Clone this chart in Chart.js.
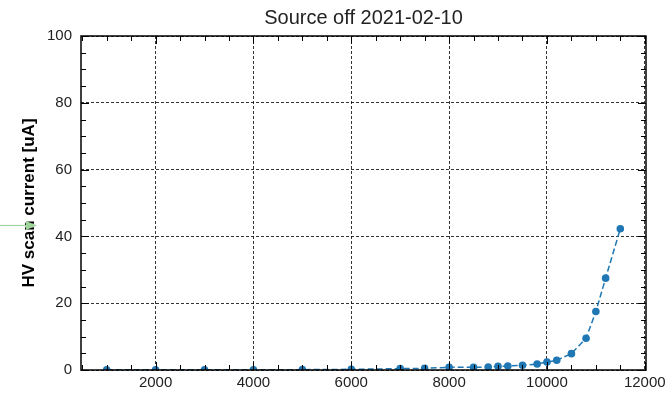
<!DOCTYPE html>
<html>
<head>
<meta charset="utf-8">
<script src="https://cdn.jsdelivr.net/npm/chart.js@4"></script>
<style>
  html, body { margin: 0; padding: 0; background: #fff; }
  #wrap { width: 671px; height: 393px; }
</style>
</head>
<body>
<div id="wrap"><canvas id="myChart" width="671" height="393"></canvas></div>
<script>
const chartTitle = 'Source off 2021-02-10';
const yTitle = 'HV scan current [uA]';
const voltages = [1000, 2000, 3000, 4000, 5000, 6000, 7000, 7500, 8000, 8500, 8800, 9000,
  9200, 9500, 9800, 10000, 10200, 10500, 10800, 11000, 11200, 11500];
const currents = [0.05, 0.05, 0.05, 0.05, 0.1, 0.2, 0.4, 0.5, 0.8, 0.8, 0.9, 1.1,
  1.2, 1.4, 1.8, 2.4, 2.9, 4.9, 9.5, 17.5, 27.5, 42.3];
const xMajorTicks = [2000, 4000, 6000, 8000, 10000, 12000];
const yMajorTicks = [0, 20, 40, 60, 80, 100];

const blue = '#1f77b4';
const font = 'Liberation Sans, Arial, sans-serif';

// inward ticks, top/right spines and the little green arrow on the left
const frame = {
  id: 'frame',
  afterDatasetsDraw(chart) {
    const { ctx, chartArea: a, scales: { x, y } } = chart;
    ctx.save();
    ctx.strokeStyle = '#000';
    ctx.lineWidth = 1;
    ctx.beginPath();
    for (let v = 500; v <= 12000; v += 500) {
      const px = Math.round(x.getPixelForValue(v)) + 0.5;
      if (px < a.left || px > a.right) continue;
      const len = v % 2000 === 0 ? 8 : 5;
      ctx.moveTo(px, a.bottom); ctx.lineTo(px, a.bottom - len);
      ctx.moveTo(px, a.top); ctx.lineTo(px, a.top + len);
    }
    for (let v = 0; v <= 100; v += 5) {
      const py = Math.round(y.getPixelForValue(v)) + 0.5;
      const len = v % 20 === 0 ? 8 : 5;
      ctx.moveTo(a.left, py); ctx.lineTo(a.left + len, py);
      ctx.moveTo(a.right, py); ctx.lineTo(a.right - len, py);
    }
    ctx.stroke();
    ctx.lineWidth = 1.5;
    ctx.strokeRect(a.left, a.top, a.right - a.left, a.bottom - a.top);

    // green arrow
    ctx.strokeStyle = '#9fd49a';
    ctx.fillStyle = '#9fd49a';
    ctx.lineWidth = 1.2;
    ctx.beginPath();
    ctx.moveTo(0, 225.5); ctx.lineTo(30, 225.5);
    ctx.stroke();
    ctx.beginPath();
    ctx.moveTo(37, 225.5); ctx.lineTo(26, 221); ctx.lineTo(26, 230); ctx.closePath();
    ctx.fill();
    ctx.restore();
  }
};

new Chart(document.getElementById('myChart').getContext('2d'), {
  type: 'scatter',
  data: {
    datasets: [{
      data: voltages.map((v, i) => ({ x: v, y: currents[i] })),
      showLine: true,
      borderColor: blue,
      backgroundColor: blue,
      borderWidth: 1.5,
      borderDash: [6, 3],
      pointRadius: 3.8,
      pointHoverRadius: 3.8,
      pointBorderWidth: 0,
    }],
  },
  options: {
    responsive: false,
    animation: false,
    layout: { padding: { left: 0, right: 25, top: 0, bottom: 0 } },
    plugins: {
      legend: { display: false },
      tooltip: { enabled: false },
      title: {
        display: true,
        text: chartTitle,
        fullSize: false,
        color: '#222',
        font: { family: font, size: 20, weight: 'normal' },
        padding: { top: 6, bottom: 6 },
      },
    },
    scales: {
      x: {
        type: 'linear',
        min: 475,
        max: 12025,
        afterBuildTicks: (s) => { s.ticks = xMajorTicks.map((v) => ({ value: v })); },
        afterFit: (s) => { s.height = 23; },
        ticks: {
          color: '#222',
          font: { family: font, size: 15 },
          padding: 4,
          maxRotation: 0,
          callback: (v) => String(v),
        },
        grid: { color: '#000', lineWidth: 0.8, drawTicks: false },
        border: { display: false, dash: [3, 2] },
      },
      y: {
        min: 0,
        max: 100,
        afterBuildTicks: (s) => { s.ticks = yMajorTicks.map((v) => ({ value: v })); },
        afterFit: (s) => { s.width = 81; },
        ticks: {
          color: '#222',
          font: { family: font, size: 15 },
          padding: 9,
        },
        grid: { color: '#000', lineWidth: 0.8, drawTicks: false },
        border: { display: false, dash: [3, 2] },
        title: {
          display: true,
          text: yTitle,
          color: '#000',
          font: { family: font, size: 17, weight: 'bold' },
          padding: { top: 19, bottom: 0 },
        },
      },
    },
  },
  plugins: [frame],
});
</script>
</body>
</html>
